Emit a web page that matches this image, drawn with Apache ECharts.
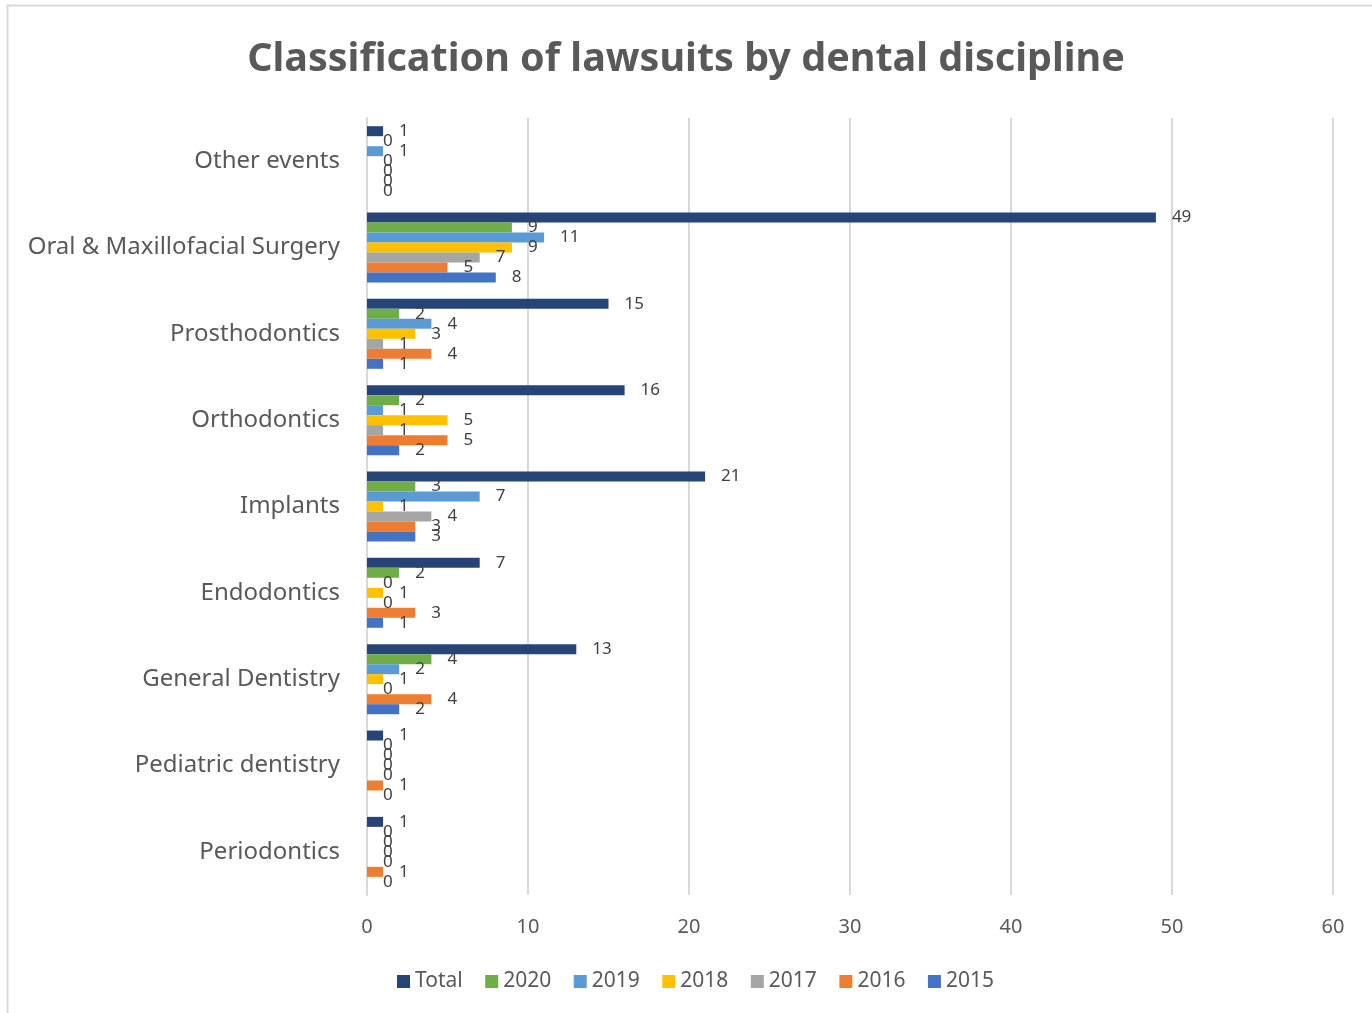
<!DOCTYPE html>
<html><head><meta charset="utf-8">
<script src="https://cdn.jsdelivr.net/npm/echarts@6/dist/echarts.min.js"></script>
<style>html,body{margin:0;padding:0;background:#fff}#c{width:1372px;height:1013px}</style>
</head><body><div id="c"></div>
<script>
const categories = ['Periodontics','Pediatric dentistry','General Dentistry','Endodontics','Implants','Orthodontics','Prosthodontics','Oral & Maxillofacial Surgery','Other events'];
const total = [1, 1, 13, 7, 21, 16, 15, 49, 1];
const y2020 = [0, 0, 4, 2, 3, 2, 2, 9, 0];
const y2019 = [0, 0, 2, 0, 7, 1, 4, 11, 1];
const y2018 = [0, 0, 1, 1, 1, 5, 3, 9, 0];
const y2017 = [0, 0, 0, 0, 4, 1, 1, 7, 0];
const y2016 = [1, 1, 4, 3, 3, 5, 4, 5, 0];
const y2015 = [0, 0, 2, 1, 3, 2, 1, 8, 0];
const seriesNames = ['Total','2020','2019','2018','2017','2016','2015'];
const seriesData = [total, y2020, y2019, y2018, y2017, y2016, y2015];
const colors = ['#264478','#70AD47','#5B9BD5','#FFC000','#A5A5A5','#ED7D31','#4472C4'];
const xTicks = [0, 10, 20, 30, 40, 50, 60];

const FONT = 'Noto Sans';
const chart = echarts.init(document.getElementById('c'), null, {renderer:'canvas'});
const series = seriesNames.map((n,i)=>({
  name: n, type: 'bar', data: seriesData[i],
  itemStyle: {color: colors[i]},
  barGap: '0%', barCategoryGap: '19%',
  label: {show: true, position: 'right', distance: 16, color: '#404040', fontSize: 17, fontFamily: FONT},
  z: 3
}));
chart.setOption({
  animation: false,
  textStyle: {fontFamily: FONT},
  title: {text: 'Classification of lawsuits by dental discipline', left: 'center', top: 35,
    textStyle: {fontSize: 39.5, fontWeight: 'bold', color: '#595959', fontFamily: FONT}},
  graphic: [{type:'rect', shape:{x:7.5, y:5.5, width:1400, height:1100}, style:{fill:'none', stroke:'#d9d9d9', lineWidth:2}, silent:true}],
  legend: {data: seriesNames, bottom: 16, left: 392, itemWidth: 13, itemHeight: 13, itemGap: 22.5,
    icon: 'rect', textStyle: {fontSize: 21, color: '#595959', fontFamily: FONT}},
  grid: {left: 367, right: 39, top: 118, bottom: 118, containLabel: false},
  xAxis: {type: 'value', min: xTicks[0], max: xTicks[xTicks.length-1], interval: 10,
    axisLine: {show:false}, axisTick: {show:false},
    splitLine: {lineStyle: {color: '#d9d9d9', width: 2}},
    axisLabel: {fontSize: 20, color: '#595959', margin: 22, fontFamily: FONT}},
  yAxis: {type: 'category', data: categories,
    axisLine: {show:true, lineStyle:{color:'#d9d9d9', width:2}}, axisTick: {show:false},
    axisLabel: {fontSize: 24, color: '#595959', margin: 27, fontFamily: FONT}},
  series: series
});
</script></body></html>
